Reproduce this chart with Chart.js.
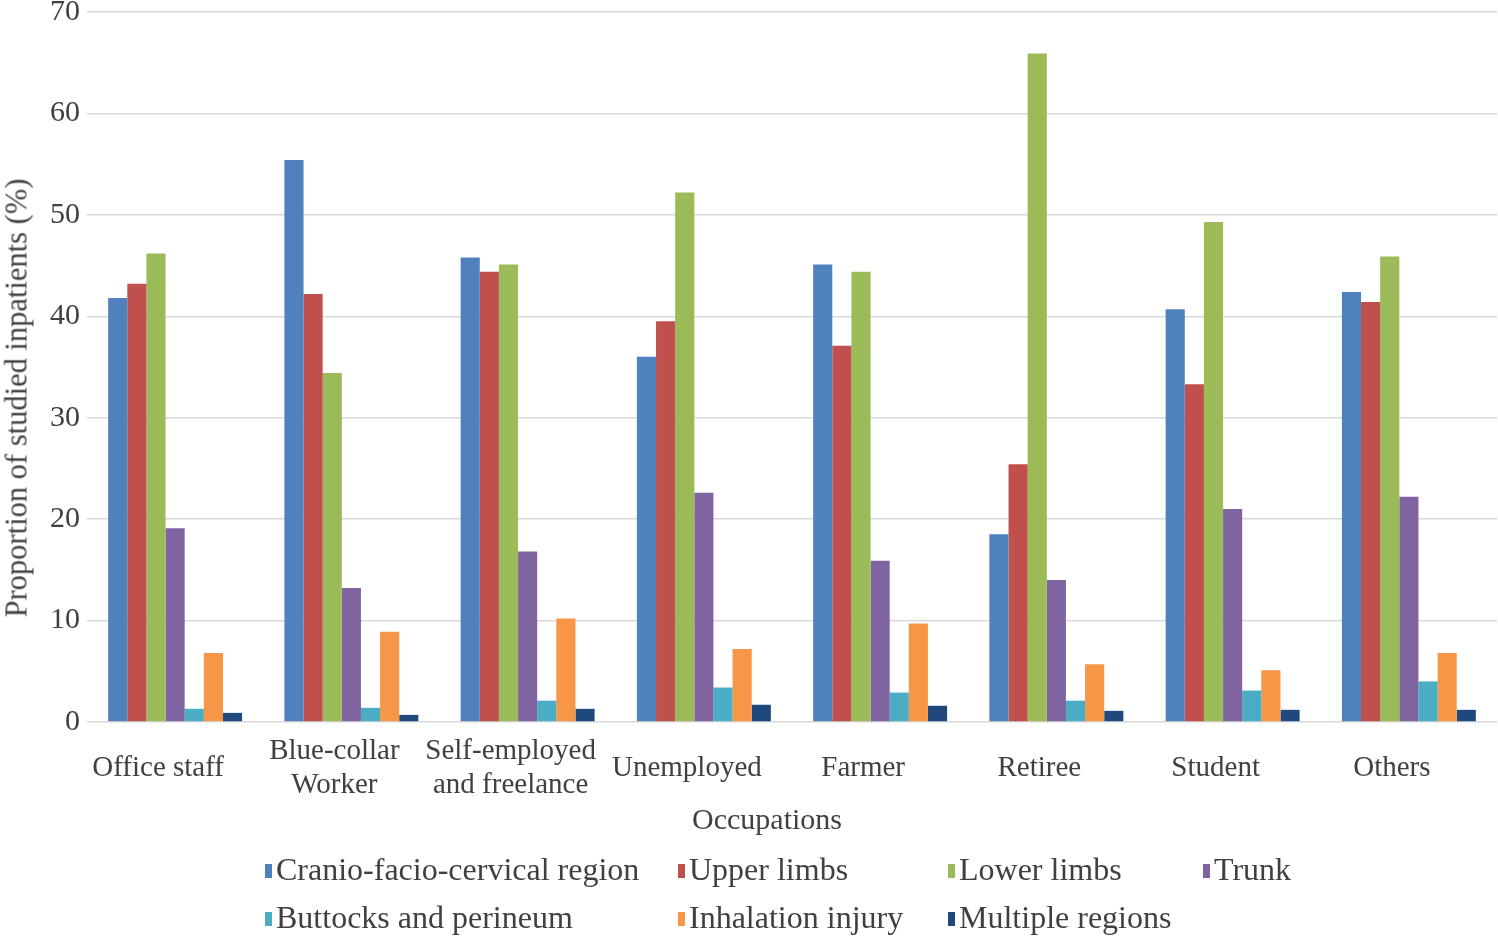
<!DOCTYPE html>
<html>
<head>
<meta charset="utf-8">
<script src="https://cdn.jsdelivr.net/npm/chart.js@4"></script>
<style>
  html, body { margin: 0; padding: 0; background: #fff; }
  #wrap { position: relative; width: 1498px; height: 938px; font-family: "Liberation Serif", "Times New Roman", serif; color: #404040; }
  #chart { position: absolute; left: 0; top: 0; }
  .ytitle { position: absolute; left: 17px; top: 398px; font-size: 30.5px; white-space: nowrap; transform: translate(-50%, -50%) rotate(-90deg); }
  .xtitle { position: absolute; left: 767px; top: 819px; font-size: 30px; white-space: nowrap; transform: translate(-50%, -50%); }
  .leg { position: absolute; font-size: 32px; white-space: nowrap; line-height: 1; }
  .leg i { display: inline-block; width: 7px; height: 14px; margin-right: 4px; vertical-align: 2px; }
</style>
</head>
<body>
<div id="wrap">
  <canvas id="chart" width="1498" height="938"></canvas>
  <div class="ytitle">Proportion of studied inpatients (%)</div>
  <div class="xtitle">Occupations</div>
</div>
<script>
// kategori pekerjaan dan nilai tiap bagian tubuh (%)
const occupations = ['Office staff', ['Blue-collar', 'Worker'], ['Self-employed', 'and freelance'], 'Unemployed', 'Farmer', 'Retiree', 'Student', 'Others'];
const seriesNames = ['Cranio-facio-cervical region', 'Upper limbs', 'Lower limbs', 'Trunk', 'Buttocks and perineum', 'Inhalation injury', 'Multiple regions'];
const seriesColors = ['#4F81BD', '#C0504D', '#9BBB59', '#8064A2', '#4BACC6', '#F79646', '#1F497D'];

const cranio    = [41.8, 55.4, 45.8, 36.0, 45.1, 18.5, 40.7, 42.4];
const upper     = [43.2, 42.2, 44.4, 39.5, 37.1, 25.4, 33.3, 41.4];
const lower     = [46.2, 34.4, 45.1, 52.2, 44.4, 65.9, 49.3, 45.9];
const trunk     = [19.1, 13.2, 16.8, 22.6, 15.9, 14.0, 21.0, 22.2];
const buttocks  = [1.3, 1.4, 2.1, 3.4, 2.9, 2.1, 3.1, 4.0];
const inhale    = [6.8, 8.9, 10.2, 7.2, 9.7, 5.7, 5.1, 6.8];
const multiple  = [0.9, 0.7, 1.3, 1.7, 1.6, 1.1, 1.2, 1.2];

const yTicks = [0, 10, 20, 30, 40, 50, 60, 70];

const seriesValues = [cranio, upper, lower, trunk, buttocks, inhale, multiple];

const datasets = seriesNames.map((name, i) => ({
    label: name,
    data: seriesValues[i],
    backgroundColor: seriesColors[i],
    borderWidth: 0,
    barPercentage: 1.0,
    categoryPercentage: 0.76
}));

new Chart(document.getElementById('chart'), {
    type: 'bar',
    data: { labels: occupations, datasets: datasets },
    options: {
        responsive: false,
        animation: false,
        layout: { padding: { top: 12, right: 1, left: 0, bottom: 126 } },
        plugins: { legend: { display: false }, tooltip: { enabled: false } },
        scales: {
            x: {
                grid: { display: false },
                border: { display: false },
                ticks: {
                    color: '#404040',
                    font: { family: 'Liberation Serif', size: 29 },
                    padding: 21,
                    labelOffset: -17,
                    crossAlign: 'center',
                    maxRotation: 0,
                    autoSkip: false
                },
                afterFit: (scale) => {
                    scale.height = 90;
                    scale.paddingLeft = 0;
                    scale.paddingRight = 0;
                }
            },
            y: {
                min: 0,
                max: 70,
                afterBuildTicks: (scale) => { scale.ticks = yTicks.map(v => ({ value: v })); },
                grid: { color: '#D9D9D9', lineWidth: 1.5, drawTicks: false },
                border: { display: false },
                ticks: {
                    color: '#404040',
                    font: { family: 'Liberation Serif', size: 30 },
                    padding: 7
                },
                afterFit: (scale) => {
                    scale.width = 87;
                    scale.paddingTop = 0;
                    scale.paddingBottom = 0;
                }
            }
        }
    }
});

// legenda dua baris dalam grid
const legendCols = [265, 678, 948, 1203];
const legendRows = [870, 918];
const wrap = document.getElementById('wrap');
seriesNames.forEach((name, i) => {
    const el = document.createElement('div');
    el.className = 'leg';
    el.style.left = legendCols[i % 4] + 'px';
    el.style.top = (legendRows[Math.floor(i / 4)] - 17) + 'px';
    el.innerHTML = '<i style="background:' + seriesColors[i] + '"></i>' + name;
    wrap.appendChild(el);
});
</script>
</body>
</html>
